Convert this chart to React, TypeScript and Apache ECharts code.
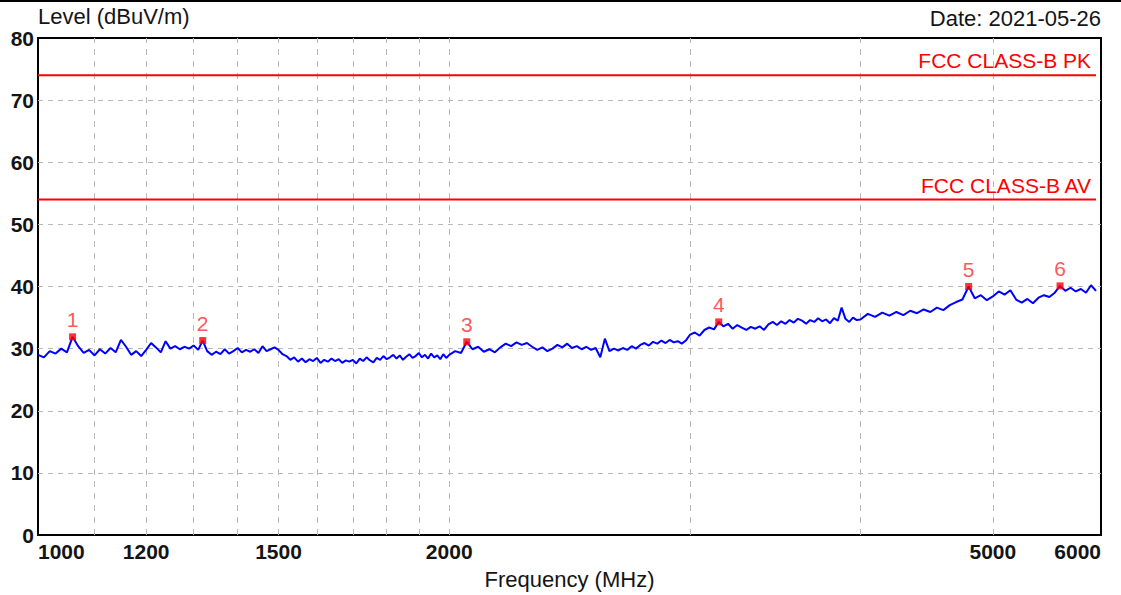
import React, { useEffect, useRef } from 'react';
import * as echarts from 'echarts';

// ---- sweep definition (start frequency, step in MHz) for each trace segment
const SEG_A = { start: 1000, step: 10 };
const SEG_B = { start: 2000, step: 20 };
const SEG_C = { start: 3000, step: 25 };
const SEG_D = { start: 4000, step: 50 };

const LEVEL_A = [
  29.0, 28.6, 29.6, 29.2, 30.0, 29.4, 31.9, 30.4, 29.3, 29.8,
  28.9, 29.9, 29.2, 30.1, 29.4, 31.4, 30.3, 29.0, 29.6, 28.8,
  29.8, 30.9, 30.2, 29.4, 31.2, 30.0, 30.4, 29.9, 30.3, 30.0,
  30.5, 29.8, 31.3, 29.6, 29.0, 29.5, 29.1, 29.9, 29.2, 29.6,
  30.1, 29.4, 29.8, 29.5, 29.9, 29.3, 30.4, 29.6, 29.9, 30.2,
  29.8, 29.1, 28.8, 28.2, 28.6, 27.9, 28.4, 27.8, 28.3, 28.0,
  28.5, 27.7, 28.2, 27.9, 28.4, 28.0, 28.3, 27.7, 28.1, 27.9,
  28.2, 27.6, 28.4, 28.0, 28.6, 28.1, 27.8, 28.5, 28.2, 28.8,
  28.3, 28.6, 29.0, 28.4, 28.9, 28.2, 28.7, 29.1, 28.5, 28.8,
  29.3, 28.6, 29.0, 28.4, 29.2, 28.6, 28.9, 28.3, 29.1, 28.5,
];
const LEVEL_B = [
  29.0, 29.6, 29.3, 31.1, 29.9, 30.3, 29.5, 29.9, 29.4, 30.2,
  30.8, 30.4, 31.0, 30.6, 30.9, 30.3, 29.8, 30.2, 29.6, 30.0,
  30.6, 30.2, 30.8, 30.1, 30.4, 29.9, 30.3, 29.8, 30.1, 28.6,
  31.6, 29.6, 30.0, 29.7, 30.1, 29.8, 30.4, 30.0, 30.6, 30.9,
  30.5, 31.1, 30.8, 31.3, 30.9, 31.4, 31.0, 31.2, 30.8, 31.3,
];
const LEVEL_C = [
  32.2, 32.6, 32.1, 33.0, 33.4, 33.1, 34.3, 33.6, 34.0, 33.2,
  33.8, 33.4, 33.0, 33.5, 33.2, 33.6, 33.0, 33.9, 34.3, 33.8,
  34.4, 34.0, 34.6, 34.2, 34.8, 34.5, 34.0, 34.6, 34.3, 34.9,
  34.4, 34.7, 34.1, 34.9, 34.5, 36.6, 34.8, 34.3, 35.0, 34.6,
];
const LEVEL_D = [
  34.7, 35.6, 35.1, 35.8, 35.3, 35.9, 35.4, 36.1, 35.7, 36.3,
  35.9, 36.6, 36.2, 37.0, 37.5, 37.9, 40.0, 38.1, 38.6, 37.8,
  38.4, 39.2, 38.7, 39.4, 37.9, 37.4, 38.0, 37.3, 38.2, 38.6,
  38.3, 39.0, 40.1, 39.3, 39.8, 39.2, 39.6, 39.0, 40.2, 39.3,
];

// ---- markers
const MARKER_FREQ = [1060, 1320, 2060, 3150, 4800, 5600];
const MARKER_LEVEL = [31.9, 31.3, 31.1, 34.3, 40.0, 40.1];
const MARKER_NAMES = ['1', '2', '3', '4', '5', '6'];

// ---- limit lines
const LIMIT_NAMES = ['FCC CLASS-B PK', 'FCC CLASS-B AV'];
const LIMIT_LEVELS = [74, 54];
const LIMIT_RANGE = [1000, 5950];

// ---- axes
const X_MIN = 1000;
const X_MAX = 6000;
const X_LABELS = [1000, 1200, 1500, 2000, 5000, 6000];
const X_GRID = [1100, 1200, 1300, 1400, 1500, 1600, 1700, 1800, 1900, 2000, 3000, 4000, 5000];
const Y_MIN = 0;
const Y_MAX = 80;
const Y_STEP = 10;

const TITLE_Y = 'Level (dBuV/m)';
const TITLE_X = 'Frequency (MHz)';
const DATE_TEXT = 'Date: 2021-05-26';

const FONT = '"Liberation Sans", Arial, sans-serif';
const TEXT = '#141414';
const GRID_COLOR = '#b9b9b9';

function seg(def: { start: number; step: number }, levels: number[]) {
  return levels.map((v, i) => [def.start + i * def.step, v]);
}

export default function App() {
  const ref = useRef<HTMLDivElement>(null);

  useEffect(() => {
    if (!ref.current) return;
    const chart = echarts.init(ref.current, undefined, { renderer: 'svg' });

    const trace = [
      ...seg(SEG_A, LEVEL_A),
      ...seg(SEG_B, LEVEL_B),
      ...seg(SEG_C, LEVEL_C),
      ...seg(SEG_D, LEVEL_D),
    ];

    const limitSeries = LIMIT_NAMES.map((name, k) => ({
      type: 'line',
      name,
      z: 2,
      showSymbol: true,
      symbol: 'circle',
      symbolSize: 0,
      lineStyle: { color: '#ff0000', width: 2 },
      itemStyle: { color: '#ff0000' },
      emphasis: { disabled: true },
      data: [
        { value: [LIMIT_RANGE[0], LIMIT_LEVELS[k]], label: { show: false } },
        {
          value: [LIMIT_RANGE[1], LIMIT_LEVELS[k]],
          label: {
            show: true,
            formatter: name,
            position: 'top',
            align: 'right',
            distance: 4,
            offset: [-5, 0],
            color: '#ff0000',
            fontSize: 21,
            fontFamily: FONT,
          },
        },
      ],
      markLine:
        k === 0
          ? {
              silent: true,
              z: 1,
              symbol: ['none', 'none'],
              label: { show: false },
              animation: false,
              emphasis: { disabled: true },
              lineStyle: { type: [6, 6], color: GRID_COLOR, width: 1 },
              data: X_GRID.map((f) => ({ xAxis: f })),
            }
          : undefined,
    }));

    chart.setOption({
      animation: false,
      backgroundColor: '#ffffff',
      textStyle: { fontFamily: FONT },
      grid: {
        left: 38,
        right: 20,
        top: 38,
        bottom: 59,
        show: true,
        borderColor: '#000000',
        borderWidth: 2,
        backgroundColor: 'transparent',
      },
      xAxis: {
        type: 'log',
        logBase: 10,
        min: X_MIN,
        max: X_MAX,
        name: TITLE_X,
        nameLocation: 'middle',
        nameGap: 33,
        nameTextStyle: { fontSize: 22, color: TEXT, fontFamily: FONT },
        axisLine: { show: false },
        axisTick: { show: false },
        splitLine: { show: false },
        axisLabel: {
          customValues: X_LABELS,
          formatter: (v: number) => String(Math.round(v)),
          fontSize: 21,
          fontWeight: 'bold',
          color: TEXT,
          margin: 6,
          alignMinLabel: 'left',
          alignMaxLabel: 'right',
          showMinLabel: true,
          showMaxLabel: true,
          fontFamily: FONT,
        },
      },
      yAxis: {
        type: 'value',
        min: Y_MIN,
        max: Y_MAX,
        interval: Y_STEP,
        name: TITLE_Y,
        nameLocation: 'end',
        nameGap: 5,
        nameTextStyle: { fontSize: 22, color: TEXT, align: 'left', fontFamily: FONT },
        axisLine: { show: false },
        axisTick: { show: false },
        axisLabel: { fontSize: 21, fontWeight: 'bold', color: TEXT, margin: 4, fontFamily: FONT },
        splitLine: {
          show: true,
          showMinLine: false,
          showMaxLine: false,
          lineStyle: { type: [5, 5], color: GRID_COLOR, width: 1 },
        },
      },
      graphic: [
        { type: 'rect', shape: { x: 0, y: 0, width: 1121, height: 2 }, style: { fill: '#000' }, silent: true },
        {
          type: 'text',
          right: 20,
          top: 7,
          silent: true,
          style: { text: DATE_TEXT, fontSize: 22, fill: TEXT, fontFamily: FONT },
        },
      ],
      series: [
        ...limitSeries,
        {
          type: 'line',
          name: 'Level',
          z: 3,
          symbol: 'none',
          lineStyle: { color: '#0000ff', width: 2 },
          emphasis: { disabled: true },
          data: trace,
        },
        {
          type: 'scatter',
          name: 'Markers',
          z: 4,
          symbol: 'rect',
          symbolSize: 7,
          itemStyle: { color: '#ff0000' },
          emphasis: { disabled: true },
          label: {
            show: true,
            position: 'top',
            distance: 3,
            formatter: (p: any) => MARKER_NAMES[p.dataIndex],
            color: '#ff2a2a',
            fontSize: 21,
            fontFamily: FONT,
          },
          data: MARKER_FREQ.map((f, i) => [f, MARKER_LEVEL[i]]),
        },
      ],
    });

    return () => chart.dispose();
  }, []);

  return (
    <div
      ref={ref}
      style={{ position: 'fixed', left: 0, top: 0, width: 1121, height: 595, background: '#fff' }}
    />
  );
}
